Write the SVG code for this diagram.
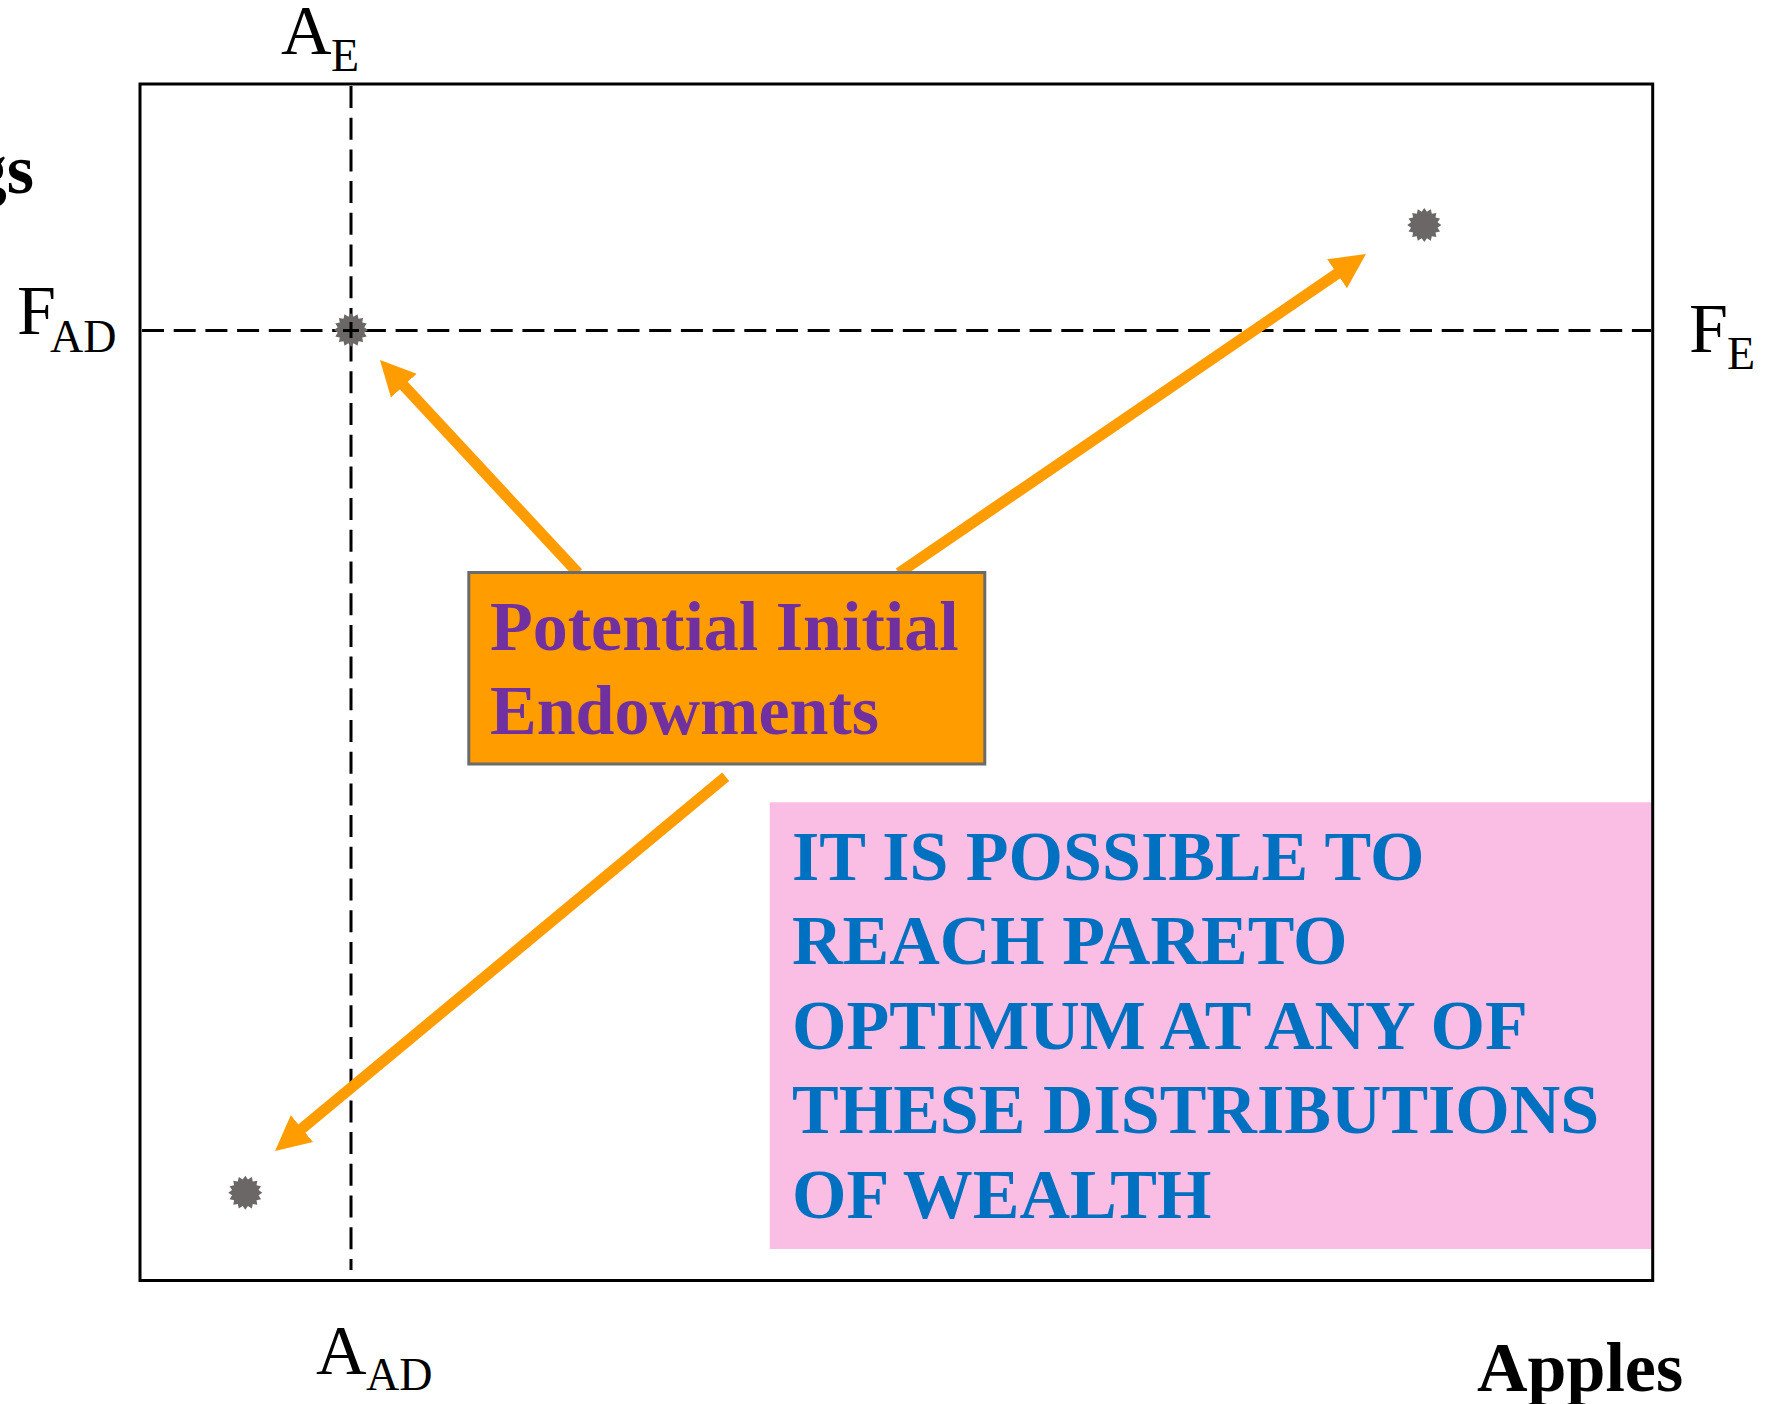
<svg xmlns="http://www.w3.org/2000/svg" xmlns:xlink="http://www.w3.org/1999/xlink" width="1767" height="1404" viewBox="0 0 1767 1404">
  <style>
    .serif { font-family: "Liberation Serif", "Times New Roman", serif; }
    .axis { font-size: 70px; fill: #000; }
    .sub { font-size: 46px; }
    .bold { font-weight: bold; }
    .frame { fill: none; stroke: #000; stroke-width: 3; }
    .guide { fill: none; stroke: #000; stroke-width: 3; stroke-dasharray: 22 9.7; }
    .arrow { fill: none; stroke: #FF9C00; stroke-width: 11; }
    .dot { fill: #6B6766; }
    .tag-box { fill: #FF9C00; stroke: #6B6B6B; stroke-width: 3; }
    .tag-text { font-size: 70px; font-weight: bold; fill: #7030A0; }
    .note-box { fill: #FABDE3; }
    .note-text { font-size: 70px; font-weight: bold; fill: #0070C0; }
  </style>
  <defs>
    <!-- 16-point starburst used for each endowment point -->
    <path id="burst" d="M0,-17 L2.63,-13.24 L6.51,-15.71 L7.5,-11.23 L12.02,-12.02 L11.23,-7.5 L15.71,-6.51 L13.24,-2.63 L17,0 L13.24,2.63 L15.71,6.51 L11.23,7.5 L12.02,12.02 L7.5,11.23 L6.51,15.71 L2.63,13.24 L0,17 L-2.63,13.24 L-6.51,15.71 L-7.5,11.23 L-12.02,12.02 L-11.23,7.5 L-15.71,6.51 L-13.24,2.63 L-17,0 L-13.24,-2.63 L-15.71,-6.51 L-11.23,-7.5 L-12.02,-12.02 L-7.5,-11.23 L-6.51,-15.71 L-2.63,-13.24 Z"/>
    <marker id="head" markerUnits="userSpaceOnUse" markerWidth="36" markerHeight="36" refX="5" refY="17.5" orient="auto" viewBox="0 0 36 36">
      <path d="M0,0 L35,17.5 L0,35 Z" fill="#FF9C00"/>
    </marker>
  </defs>

  <rect width="1767" height="1404" fill="#fff"/>

  <!-- note box sits under the frame line on its right side -->
  <g id="note">
    <rect class="note-box" x="769.7" y="802.3" width="882.6" height="446.7"/>
    <text class="serif note-text" x="792">
      <tspan x="792" y="880">IT IS POSSIBLE TO</tspan>
      <tspan x="792" y="964">REACH PARETO</tspan>
      <tspan x="792" y="1049">OPTIMUM AT ANY OF</tspan>
      <tspan x="792" y="1133">THESE DISTRIBUTIONS</tspan>
      <tspan x="792" y="1218">OF WEALTH</tspan>
    </text>
  </g>

  <!-- Edgeworth box frame and endowment guides -->
  <g id="frame">
    <rect class="frame" x="140" y="84" width="1512.7" height="1196.5"/>
  </g>
  <g id="guides">
    <line class="guide" x1="142" y1="330.5" x2="1651" y2="330.5"/>
    <line class="guide" x1="351" y1="86" x2="351" y2="1270"/>
  </g>

  <!-- axis labels -->
  <g id="labels" class="serif">
    <text class="axis" x="281" y="54">A<tspan class="sub" x="331" y="70.7">E</tspan></text>
    <text class="axis" x="17" y="334">F<tspan class="sub" x="50" y="352">AD</tspan></text>
    <text class="axis" x="1689" y="351.7">F<tspan class="sub" x="1727" y="369">E</tspan></text>
    <text class="axis" x="316" y="1374">A<tspan class="sub" x="366" y="1390">AD</tspan></text>
    <text class="axis bold" x="34" y="193" text-anchor="end">gs</text>
    <text class="axis bold" x="1477" y="1391">Apples</text>
  </g>

  <!-- endowment points -->
  <g id="point-ad">
    <use xlink:href="#burst" class="dot" x="351" y="330"/>
    <line x1="351" y1="322" x2="351" y2="338" stroke="#000" stroke-width="3"/>
    <line x1="343" y1="330.5" x2="359" y2="330.5" stroke="#000" stroke-width="3"/>
  </g>
  <g id="point-upper">
    <use xlink:href="#burst" class="dot" x="1424.3" y="225"/>
  </g>
  <g id="point-lower">
    <use xlink:href="#burst" class="dot" x="245.3" y="1192.7"/>
  </g>

  <!-- arrows from the label box to the points -->
  <g id="connectors">
    <line class="arrow" x1="578" y1="573" x2="400.4" y2="382" marker-end="url(#head)"/>
    <line class="arrow" x1="899" y1="573" x2="1341.2" y2="270.9" marker-end="url(#head)"/>
    <line class="arrow" x1="725.7" y1="776.7" x2="298.1" y2="1131.8" marker-end="url(#head)"/>
  </g>

  <g id="tag">
    <rect class="tag-box" x="468.8" y="572.5" width="516" height="191.5"/>
    <text class="serif tag-text">
      <tspan x="490" y="650">Potential Initial</tspan>
      <tspan x="490" y="734">Endowments</tspan>
    </text>
  </g>
</svg>
